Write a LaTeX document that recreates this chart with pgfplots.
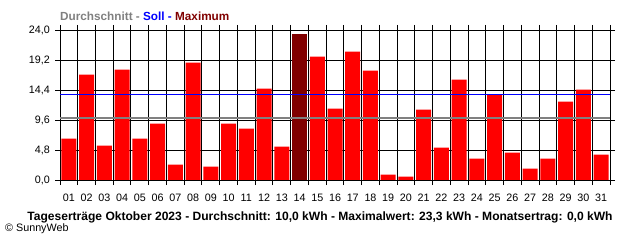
\documentclass[border=0pt]{standalone}
\usepackage{fontspec}
\setmainfont{Liberation Sans}
\usepackage{pgfplots}
\pgfplotsset{compat=1.18}
\definecolor{barred}{HTML}{FF0000}
\definecolor{maxred}{HTML}{800000}
\definecolor{avggrey}{HTML}{808080}
\definecolor{sollblue}{HTML}{0000FF}
\begin{document}
\begin{tikzpicture}
\path[use as bounding box] (0,0) rectangle (640bp,240bp);
\begin{axis}[
  at={(60bp,60bp)}, anchor=south west,
  scale only axis, width=550bp, height=150bp,
  xmin=0.5, xmax=31.5, ymin=0, ymax=24,
  axis line style={black, line width=1bp},
  xtick={1,...,31},
  xticklabels={01,02,03,04,05,06,07,08,09,10,11,12,13,14,15,16,17,18,19,20,21,22,23,24,25,26,27,28,29,30,31},
  minor xtick={0.5,1.5,2.5,3.5,4.5,5.5,6.5,7.5,8.5,9.5,10.5,11.5,12.5,13.5,14.5,15.5,16.5,17.5,18.5,19.5,20.5,21.5,22.5,23.5,24.5,25.5,26.5,27.5,28.5,29.5,30.5,31.5},
  ytick={0,4.8,9.6,14.4,19.2,24},
  yticklabels={{0,0},{4,8},{9,6},{14,4},{19,2},{24,0}},
  minor ytick={0,4.8,9.6,14.4,19.2,24},
  grid=minor,
  minor grid style={black, line width=1bp},
  tick align=outside,
  major tick length=0pt,
  minor tick length=5bp,
  minor tick style={black, line width=1bp},
  tick label style={font=\fontsize{10.8}{12}\selectfont, inner sep=0pt},
  xticklabel style={anchor=base, yshift=-21bp},
  yticklabel style={anchor=base east, xshift=-10bp, yshift=-3.9bp},
]
\addplot[ybar, bar width=15bp, bar shift=0pt, fill=barred, draw=none] coordinates {
(1,6.61) (2,16.85) (3,5.49) (4,17.65) (5,6.61) (6,9.01) (7,2.45) (8,18.77) (9,2.13) (10,9.01)
(11,8.21) (12,14.61) (13,5.33) (15,19.73) (16,11.41) (17,20.53) (18,17.49) (19,0.85) (20,0.53)
(21,11.25) (22,5.17) (23,16.05) (24,3.41) (25,13.76) (26,4.37) (27,1.81) (28,3.41) (29,12.53)
(30,14.45) (31,4.05)};
\addplot[ybar, bar width=15bp, bar shift=0pt, fill=maxred, draw=none] coordinates {(14,23.3)};
\addplot[avggrey, line width=1.5bp] coordinates {(0.5,9.92) (31.5,9.92)};
\addplot[sollblue, line width=1bp] coordinates {(0.5,13.76) (31.5,13.76)};
\end{axis}
\node[anchor=base west, inner sep=0pt, font=\bfseries\fontsize{11.8}{13}\selectfont] at (60bp,219.3bp)
  {\textcolor{avggrey}{Durchschnitt -} \textcolor{sollblue}{Soll -} \textcolor{maxred}{Maximum}};
\node[anchor=base, inner sep=0pt, font=\bfseries\fontsize{12.1}{14}\selectfont] at (320bp,19.3bp)
  {Tageserträge Oktober 2023 - Durchschnitt: 10,0 kWh - Maximalwert: 23,3 kWh - Monatsertrag: 0,0 kWh};
\node[anchor=base west, inner sep=0pt, font=\fontsize{10.8}{12}\selectfont] at (5bp,8.5bp)
  {© SunnyWeb};
\end{tikzpicture}
\end{document}
